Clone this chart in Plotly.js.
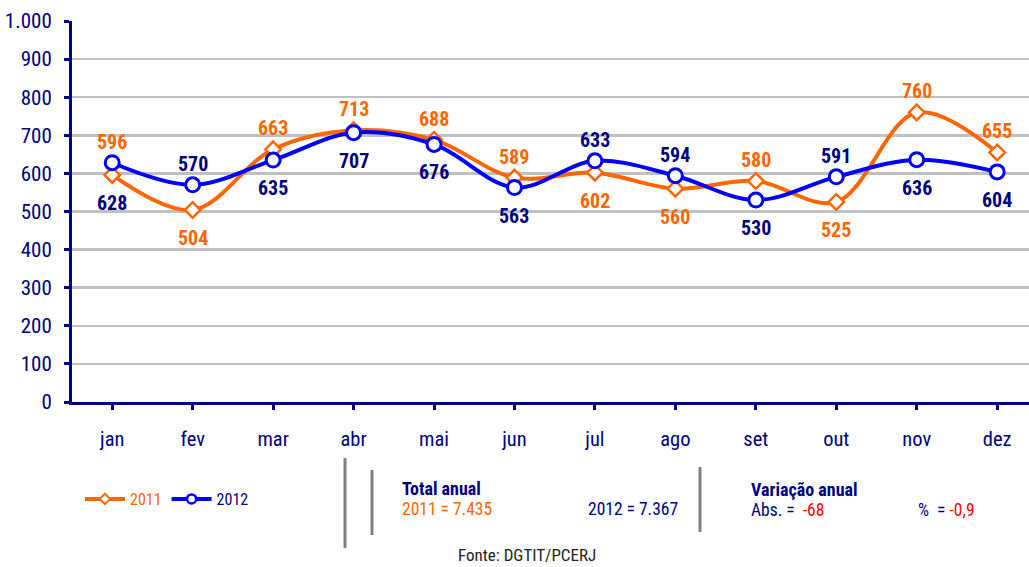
<!DOCTYPE html>
<html>
<head>
<meta charset="utf-8">
<script src="https://cdn.plot.ly/plotly-3.0.1.min.js"></script>
<style>
html,body{margin:0;padding:0;background:#fff;}
#chart{width:1029px;height:567px;}
</style>
</head>
<body>
<div id="chart"></div>
<script>
// ---- data ----
var months = ['jan','fev','mar','abr','mai','jun','jul','ago','set','out','nov','dez'];
var values2011 = [596, 504, 663, 713, 688, 589, 602, 560, 580, 525, 760, 655];
var values2012 = [628, 570, 635, 707, 676, 563, 633, 594, 530, 591, 636, 604];
// which series' label sits above the pair of points in each month
var labelAbove = ['2011','2012','2011','2011','2011','2011','2012','2012','2011','2012','2011','2011'];
var yTickVals = [0,100,200,300,400,500,600,700,800,900,1000];
var total2011 = '7.435';
var total2012 = '7.367';
var variacaoAbs = '-68';
var variacaoPct = '-0,9';
var seriesNames = ['2011','2012'];

// ---- style ----
var FONT = '"Roboto Condensed", "Arial Narrow", "Liberation Sans", Arial, sans-serif';
var ORANGE = '#FF6600', BLUE = '#0000FF', NAVY = '#000080', RED = '#FF0000';

// plot area geometry in pixels (for paper-coordinate helpers)
var L = 72, R = 1029, T = 21, B = 402;
function px(x){ return (x - L) / (R - L); }
function py(y){ return (B - y) / (B - T); }

var xIdx = months.map(function(_, i){ return i; });

var traces = [
  {
    x: xIdx, y: values2011, type: 'scatter', mode: 'lines+markers', showlegend: false,
    line: {color: ORANGE, width: 4, shape: 'spline', smoothing: 1},
    marker: {symbol: 'diamond', size: 12, color: '#FFFFFF', line: {color: ORANGE, width: 2.5}},
    hoverinfo: 'y'
  },
  {
    x: xIdx, y: values2012, type: 'scatter', mode: 'lines+markers', showlegend: false,
    line: {color: BLUE, width: 4, shape: 'spline', smoothing: 1},
    marker: {symbol: 'circle', size: 14, color: '#FFFFFF', line: {color: BLUE, width: 3}},
    hoverinfo: 'y'
  },
  // legend entries (smaller symbols, as in the original legend)
  {
    x: [null], y: [null], type: 'scatter', mode: 'lines+markers',
    name: '<span style="color:' + ORANGE + '">' + seriesNames[0] + '</span>',
    line: {color: ORANGE, width: 4},
    marker: {symbol: 'diamond', size: 8, color: '#FFFFFF', line: {color: ORANGE, width: 2}}
  },
  {
    x: [null], y: [null], type: 'scatter', mode: 'lines+markers',
    name: '<span style="color:' + NAVY + '">' + seriesNames[1] + '</span>',
    line: {color: BLUE, width: 4},
    marker: {symbol: 'circle', size: 9, color: '#FFFFFF', line: {color: BLUE, width: 2.5}}
  }
];

var annotations = [];
months.forEach(function(m, i){
  var hi = Math.max(values2011[i], values2012[i]);
  var lo = Math.min(values2011[i], values2012[i]);
  var topIs2011 = labelAbove[i] === '2011';
  var topVal = topIs2011 ? values2011[i] : values2012[i];
  var botVal = topIs2011 ? values2012[i] : values2011[i];
  annotations.push({
    x: i, y: hi, xref: 'x', yref: 'y', text: String(topVal), showarrow: false,
    yshift: 21, yanchor: 'middle',
    font: {family: FONT, size: 20, color: topIs2011 ? ORANGE : NAVY, weight: 'bold'}
  });
  annotations.push({
    x: i, y: lo, xref: 'x', yref: 'y', text: String(botVal), showarrow: false,
    yshift: -28, yanchor: 'middle',
    font: {family: FONT, size: 20, color: topIs2011 ? NAVY : ORANGE, weight: 'bold'}
  });
});

function note(text, x, y, color, size, bold, anchor){
  annotations.push({
    xref: 'paper', yref: 'paper', x: px(x), y: py(y), text: text, showarrow: false,
    xanchor: anchor || 'left', yanchor: 'middle',
    font: {family: FONT, size: size, color: color, weight: bold ? 'bold' : 'normal'}
  });
}
note('Total anual', 400, 488, NAVY, 18, true);
note('2011 = ' + total2011, 400, 509, ORANGE, 17.5, false);
note('2012 = ' + total2012, 586, 509, NAVY, 17.5, false);
note('Variação anual', 749, 490, NAVY, 18, true);
note('Abs. =  <span style="color:' + RED + '">' + variacaoAbs + '</span>', 749, 510, NAVY, 17.5, false);
note('%  = <span style="color:' + RED + '">' + variacaoPct + '</span>', 916, 510, NAVY, 17.5, false);
note('Fonte: DGTIT/PCERJ', 527, 555, '#222222', 17, false, 'center');

function vline(x, y0, y1){
  return {type: 'line', xref: 'paper', yref: 'paper', x0: px(x), x1: px(x), y0: py(y0), y1: py(y1),
          line: {color: '#7F7F7F', width: 3}};
}
var shapes = [vline(345, 458, 548), vline(372, 470, 535), vline(700, 467, 532)];

var layout = {
  width: 1029, height: 567,
  margin: {l: L, r: 1029 - R, t: T, b: 567 - B, pad: 0},
  paper_bgcolor: '#FFFFFF', plot_bgcolor: '#FFFFFF',
  font: {family: FONT, color: NAVY},
  showlegend: true,
  legend: {
    orientation: 'h', x: px(80), y: py(499), xanchor: 'left', yanchor: 'middle',
    font: {family: FONT, size: 16, color: NAVY}, itemwidth: 40, tracegroupgap: 0,
    bgcolor: 'rgba(0,0,0,0)', itemclick: false
  },
  xaxis: {
    range: [-0.5, (R - L) / 80.45 - 0.5],
    tickvals: xIdx, ticktext: months,
    showgrid: false, zeroline: false,
    showline: true, linecolor: NAVY, linewidth: 3,
    ticks: 'outside', tickson: 'boundaries', ticklen: 5, tickwidth: 3, tickcolor: NAVY,
    ticklabelstandoff: 11,
    tickfont: {family: FONT, size: 20.5, color: NAVY},
    fixedrange: true
  },
  yaxis: {
    range: [0, 1000], tickvals: yTickVals, separatethousands: true,
    showgrid: true, gridcolor: '#C0C0C0', gridwidth: 2.5,
    zeroline: false,
    showline: true, linecolor: NAVY, linewidth: 3,
    ticks: 'outside', ticklen: 5, tickwidth: 3, tickcolor: NAVY,
    ticklabelstandoff: 8,
    tickfont: {family: FONT, size: 21, color: NAVY},
    fixedrange: true
  },
  separators: ',.',
  annotations: annotations,
  shapes: shapes
};

Plotly.newPlot('chart', traces, layout, {displayModeBar: false, staticPlot: true});
</script>
</body>
</html>
